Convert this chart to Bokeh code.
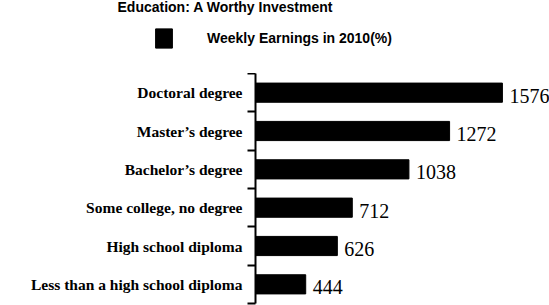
from bokeh.plotting import figure
from bokeh.layouts import column
from bokeh.models import Range1d, FixedTicker, Label, ColumnDataSource, Legend, LegendItem
from bokeh.core.properties import value
from bokeh.embed import file_html
from bokeh.resources import INLINE

title_text = "Education: A Worthy Investment"
series_name = "Weekly Earnings in 2010(%)"
categories = ["Less than a high school diploma", "High school diploma",
              "Some college, no degree", "Bachelor\u2019s degree",
              "Master\u2019s degree", "Doctoral degree"]
earnings = [444, 626, 712, 1038, 1272, 1576]

ypos = list(range(len(categories)))
src = ColumnDataSource(dict(y=ypos, v=earnings, lab=[str(e) for e in earnings]))

# header: title + legend
head = figure(width=549, height=73, output_backend="svg", toolbar_location=None,
              x_range=Range1d(0, 1), y_range=Range1d(0, 1),
              x_axis_location=None, y_axis_location=None,
              min_border_left=0, min_border_right=0, min_border_top=0, min_border_bottom=0)
head.frame_align = False
head.outline_line_color = None
head.xgrid.visible = False
head.ygrid.visible = False
proxy = head.hbar(y="y", right="v", left=0, height=0.5, source=src,
                  fill_color="black", line_color="black", visible=False)
head.add_layout(Label(x=117, y=67, x_units="screen", y_units="screen", text=title_text,
                      text_baseline="middle",
                      text_font="Liberation Sans", text_font_style="bold",
                      text_font_size="14px", text_color="black"))
legend = Legend(items=[LegendItem(label=series_name, renderers=[proxy])],
                location=(153, 23), glyph_width=21, glyph_height=24,
                label_standoff=33, padding=0, margin=0, spacing=0,
                label_height=24, border_line_color=None, background_fill_alpha=0,
                label_text_font="Liberation Sans", label_text_font_style="bold",
                label_text_font_size="14px", label_text_color="black")
head.add_layout(legend, "center")

# chart
p = figure(width=549, height=232, output_backend="svg", toolbar_location=None,
           x_range=Range1d(155, 1847), y_range=Range1d(-0.5, len(categories) - 0.5),
           x_axis_location=None, min_border_left=255, min_border_right=0,
           min_border_top=0, min_border_bottom=2)
p.frame_align = False
p.outline_line_color = None
p.xgrid.visible = False
p.ygrid.visible = False

bars = p.hbar(y="y", right="v", left=0, height=0.5, source=src,
              fill_color="black", line_color="black")
p.text(x="v", y="y", text="lab", source=src, x_offset=7, y_offset=3,
       text_baseline="middle", text_align="left",
       text_font=value("Liberation Serif"), text_font_size="20px", text_color="black")

ax = p.yaxis[0]
ax.ticker = FixedTicker(ticks=ypos, minor_ticks=[i - 0.5 for i in range(len(categories) + 1)])
ax.major_label_overrides = {i: c for i, c in zip(ypos, categories)}
ax.major_tick_line_color = None
ax.major_tick_out = 0
ax.major_tick_in = 0
ax.minor_tick_out = 8
ax.minor_tick_in = 0
ax.minor_tick_line_width = 2
ax.minor_tick_line_color = "black"
ax.axis_line_width = 2
ax.axis_line_color = "black"
ax.major_label_standoff = 5
ax.major_label_text_font = "Liberation Serif"
ax.major_label_text_font_style = "bold"
ax.major_label_text_font_size = "15.5px"
ax.major_label_text_color = "black"

layout = column(head, p, spacing=0)
open("out.html", "w").write(file_html(layout, INLINE))
